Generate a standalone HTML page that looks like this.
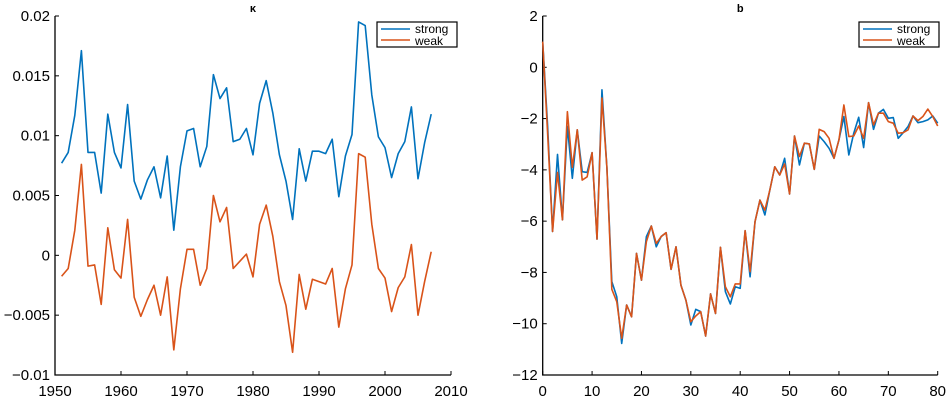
<!DOCTYPE html>
<html><head><meta charset="utf-8"><style>
body{margin:0;background:#fff;width:946px;height:400px;overflow:hidden}
svg text{font-family:"Liberation Sans",sans-serif}
</style></head><body>
<svg id="c" width="946" height="400" xmlns="http://www.w3.org/2000/svg"></svg>
<script>
const years=[];for(let y=1951;y<=2007;y++)years.push(y);
const kappaStrong=[.0077,.0086,.0117,.0171,.0086,.0086,.0052,.0118,.0086,.0073,.0126,.0062,.0047,.0063,.0074,.0048,.0083,.0021,.0074,.0104,.0106,.0074,.0091,.0151,.0131,.0140,.0095,.0097,.0106,.0084,.0127,.0146,.0119,.0084,.0062,.0030,.0089,.0062,.0087,.0087,.0085,.0097,.0049,.0083,.0101,.0195,.0192,.0134,.0099,.0090,.0065,.0085,.0095,.0124,.0064,.0094,.0118];
const kappaWeak=[-.00175,-.0011,.0021,.0076,-.0009,-.0008,-.0041,.0023,-.0012,-.0019,.0030,-.0035,-.0051,-.0037,-.0025,-.0050,-.0018,-.0079,-.0028,.0005,.0005,-.0025,-.0011,.0050,.0028,.0040,-.0011,-.0005,.0001,-.0018,.0026,.0042,.0016,-.0022,-.0042,-.0081,-.0016,-.0045,-.0020,-.0022,-.0024,-.0011,-.0060,-.0028,-.0008,.0085,.0082,.0026,-.0011,-.0019,-.0047,-.0027,-.0018,.0009,-.0050,-.0022,.0003];
const ages=[];for(let a=0;a<=80;a++)ages.push(a);
const bStrong=[1.0,-2.3,-6.4,-3.4,-5.95,-2.3,-4.33,-2.44,-4.07,-4.1,-3.33,-6.7,-0.88,-3.9,-8.36,-8.95,-10.77,-9.27,-9.73,-7.26,-8.3,-6.6,-6.19,-7.0,-6.6,-6.45,-7.88,-7.0,-8.5,-9.08,-10.05,-9.44,-9.53,-10.48,-8.84,-9.6,-7.02,-8.75,-9.23,-8.56,-8.62,-6.37,-8.17,-6.02,-5.18,-5.76,-4.79,-3.88,-4.2,-3.55,-4.94,-2.68,-3.81,-2.96,-2.99,-3.98,-2.68,-2.9,-3.16,-3.55,-2.83,-1.92,-3.42,-2.57,-1.95,-3.13,-1.38,-2.42,-1.79,-1.64,-1.99,-1.96,-2.77,-2.55,-2.31,-1.9,-2.16,-2.12,-2.05,-1.9,-2.18];
const bWeak=[1.0,-2.6,-6.4,-4.1,-5.95,-1.73,-3.9,-2.44,-4.4,-4.27,-3.33,-6.7,-1.2,-3.9,-8.66,-9.14,-10.57,-9.27,-9.73,-7.26,-8.3,-6.8,-6.19,-6.87,-6.6,-6.45,-7.88,-7.0,-8.5,-9.08,-9.92,-9.7,-9.53,-10.48,-8.84,-9.6,-7.02,-8.56,-8.95,-8.45,-8.45,-6.37,-7.97,-6.02,-5.18,-5.57,-4.79,-3.88,-4.2,-3.77,-4.94,-2.68,-3.48,-2.96,-2.99,-3.98,-2.42,-2.51,-2.77,-3.55,-2.83,-1.47,-2.7,-2.68,-2.29,-2.77,-1.38,-2.25,-1.79,-1.79,-2.12,-2.18,-2.57,-2.55,-2.44,-1.9,-2.08,-1.92,-1.63,-1.92,-2.29];
const kXTicks=[1950,1960,1970,1980,1990,2000,2010];
const kYTicks=[-0.01,-0.005,0,0.005,0.01,0.015,0.02];
const kYLabels=["\u22120.01","\u22120.005","0","0.005","0.01","0.015","0.02"];
const bXTicks=[0,10,20,30,40,50,60,70,80];
const bYTicks=[-12,-10,-8,-6,-4,-2,0,2];
const bYLabels=["\u221212","\u221210","\u22128","\u22126","\u22124","\u22122","0","2"];
const NS="http://www.w3.org/2000/svg",svg=document.getElementById('c');
function mk(t,a,p){const e=document.createElementNS(NS,t);for(const k in a)e.setAttribute(k,a[k]);(p||svg).appendChild(e);return e;}
function panel(o){
 const g=mk('g',{});
 
 
 const sx=v=>o.x0+(v-o.xmin)/(o.xmax-o.xmin)*(o.x1-o.x0);
 const sy=v=>o.y0-(v-o.ymin)/(o.ymax-o.ymin)*(o.y0-o.y1);
 const ax=mk('path',{d:`M${o.x0},${o.y1}V${o.y0}H${o.x1}`,stroke:'#000','stroke-width':1.3,fill:'none'},g);
 
 
 o.xt.forEach(v=>{const x=sx(v);mk('line',{x1:x,x2:x,y1:o.y0,y2:o.y0-4,stroke:'#000'},g);
  const t=mk('text',{x:x,y:396,'text-anchor':'middle','font-size':15},g);t.textContent=v;
  
  });
 o.yt.forEach((v,i)=>{const y=sy(v);mk('line',{x1:o.x0,x2:o.x0+4,y1:y,y2:y,stroke:'#000'},g);
  const t=mk('text',{x:o.x0-5,y:y+5,'text-anchor':'end','font-size':15},g);t.textContent=o.yl[i];
  
  });
 [[o.s1,'#0072BD','strong'],[o.s2,'#D95319','weak']].forEach(([d,c,n])=>{
  const p=mk('polyline',{points:d.map((v,i)=>sx(o.xs[i])+','+sy(v)).join(' '),fill:'none',stroke:c,'stroke-width':1.6,'stroke-linejoin':'round'},g);
  
  });
 const tt=mk('text',{x:(o.x0+o.x1)/2,y:12,'text-anchor':'middle','font-size':11,'font-weight':'bold'},g);tt.textContent=o.title;
 
 
 const lg=mk('g',{},g);
 
 
 const lx=o.lx;
 mk('rect',{x:lx,y:22,width:80,height:25,fill:'#fff',stroke:'#000','stroke-width':1.2},lg);
 mk('line',{x1:lx+4,x2:lx+33,y1:29,y2:29,stroke:'#0072BD','stroke-width':1.6},lg);
 mk('line',{x1:lx+4,x2:lx+33,y1:40,y2:40,stroke:'#D95319','stroke-width':1.6},lg);
 const a=mk('text',{x:lx+38,y:33,'font-size':12},lg);a.textContent='strong';
 
 
 const b=mk('text',{x:lx+38,y:45,'font-size':12},lg);b.textContent='weak';
 
 
}
panel({name:'kappa-panel',title:'\u03ba',x0:55,x1:451,y0:375,y1:16,xmin:1950,xmax:2010,ymin:-0.01,ymax:0.02,xt:kXTicks,yt:kYTicks,yl:kYLabels,xs:years,s1:kappaStrong,s2:kappaWeak,lx:377});
panel({name:'b-panel',title:'b',x0:542.7,x1:937.7,y0:375,y1:16,xmin:0,xmax:80,ymin:-12,ymax:2,xt:bXTicks,yt:bYTicks,yl:bYLabels,xs:ages,s1:bStrong,s2:bWeak,lx:859});
</script>
</body></html>
